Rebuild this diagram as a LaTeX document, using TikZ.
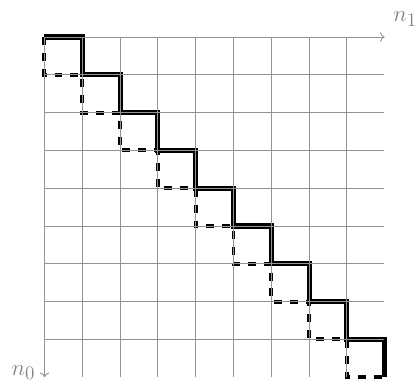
\documentclass[tikz,border=0pt]{standalone}
\usetikzlibrary{arrows.meta}
\begin{document}
\begin{tikzpicture}[x=1cm,y=1cm,
  gridline/.style={draw=gray!85, line width=0.7pt},
  axisline/.style={draw=gray!85, line width=0.7pt, -{To[length=3.5pt,width=7pt]}},
  solidstep/.style={draw=black, line width=3.8pt},
  dashstep/.style={draw=black, line width=3pt, dash pattern=on 6pt off 6pt},
  axislabel/.style={font=\fontsize{19}{23}\selectfont, text=gray, inner sep=0pt}]
\useasboundingbox (-1.177,0.979) rectangle (9.828,-9.18);
\draw[solidstep] (0,0) \foreach \i in {1,...,9} { -- (\i,{-\i+1}) -- (\i,-\i) };
\draw[dashstep] (0,0) \foreach \i in {1,...,9} { -- ({\i-1},-\i) -- (\i,-\i) };
\draw[gridline] (0,0) grid (8.99,-8.99);
\coordinate (o) at (0,0);
\coordinate (e1) at (9,0);
\coordinate (e0) at (0,-9);
\draw[axisline] (o) -- (e1);
\draw[axisline] (o) -- (e0);
\node[axislabel] (n1) at (9.54,0.48) {$n_1$};
\node[axislabel] (n0) at (-0.556,-8.87) {$n_0$};
\end{tikzpicture}
\end{document}
